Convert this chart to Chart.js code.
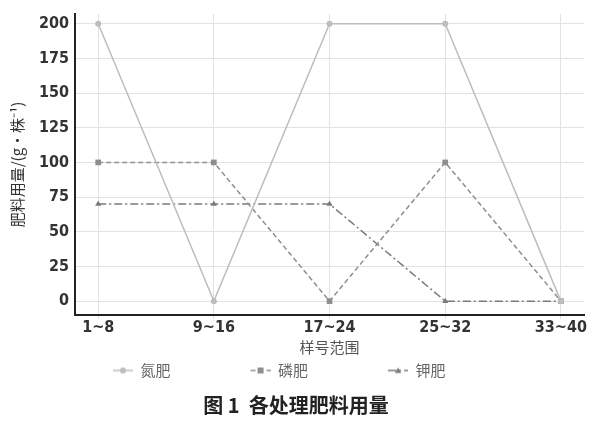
<!DOCTYPE html>
<html>
<head>
<meta charset="utf-8">
<script src="https://cdn.jsdelivr.net/npm/chart.js@4/dist/chart.umd.min.js"></script>
<style>
  html, body { margin: 0; padding: 0; background: #fff; }
  #box { width: 600px; height: 424px; }
</style>
</head>
<body>
<div id="box"><canvas id="fertChart"></canvas></div>
<script>
// 样号范围
var categories = ['1~8', '9~16', '17~24', '25~32', '33~40'];
// 各处理肥料用量 (g/株)
var nitrogen = [200, 0, 200, 200, 0];    // 氮肥
var phosphorus = [100, 100, 0, 100, 0];  // 磷肥
var potassium = [70, 70, 70, 0, 0];      // 钾肥
var yTicks = [0, 25, 50, 75, 100, 125, 150, 175, 200];

function toPoints(arr) {
    return arr.map(function (v, i) { return { x: i, y: v }; });
}

// legend sample: transparent space on the left, then line piece with marker
var ICON_W = 94, SAMPLE_W = 20;
function legendIcon(color, dash, shape) {
    var c = document.createElement('canvas');
    c.width = ICON_W; c.height = 12;
    var g = c.getContext('2d');
    var x0 = ICON_W - SAMPLE_W, mid = x0 + SAMPLE_W / 2;
    g.strokeStyle = color;
    g.lineWidth = 1.5;
    g.setLineDash(dash);
    g.beginPath(); g.moveTo(x0, 6); g.lineTo(ICON_W, 6); g.stroke();
    g.setLineDash([]);
    g.fillStyle = color;
    if (shape === 'circle') {
        g.beginPath(); g.arc(mid, 6, 3, 0, Math.PI * 2); g.fill();
    } else if (shape === 'rect') {
        g.fillRect(mid - 3, 3, 6, 6);
    } else {
        g.beginPath(); g.moveTo(mid, 3); g.lineTo(mid + 3.2, 8.5); g.lineTo(mid - 3.2, 8.5); g.closePath(); g.fill();
    }
    return c;
}

var styles = [
    { color: '#bdbdbd', dash: [], shape: 'circle', r: 3 },
    { color: '#8e8e8e', dash: [5, 3], shape: 'rect', r: 4 },
    { color: '#7a7a7a', dash: [8, 3, 2, 3], shape: 'triangle', r: 3.5 }
];

// the legend in the picture sits left of centre
var legendShift = {
    id: 'legendShift',
    afterLayout: function (chart) {
        var lg = chart.legend;
        if (lg) { lg.left += 25; lg.right += 25; }
    }
};

window.onload = function () {
    var ctx = document.getElementById('fertChart').getContext('2d');
    var names = ['氮肥', '磷肥', '钾肥'];
    var series = [nitrogen, phosphorus, potassium];
    var tickFont = { family: '"Liberation Sans Narrow", "DejaVu Sans Condensed", sans-serif', size: 16, weight: 'bold', lineHeight: 1 };

    new Chart(ctx, {
        type: 'line',
        data: {
            datasets: series.map(function (s, i) {
                return {
                    label: names[i],
                    data: toPoints(s),
                    borderColor: styles[i].color,
                    backgroundColor: styles[i].color,
                    borderWidth: 1.5,
                    borderDash: styles[i].dash,
                    pointStyle: styles[i].shape,
                    pointRadius: styles[i].r,
                    pointBorderWidth: 0,
                    tension: 0
                };
            })
        },
        options: {
            responsive: true,
            maintainAspectRatio: false,
            animation: false,
            layout: { padding: { left: 8, right: 16, top: 0, bottom: 7 } },
            scales: {
                x: {
                    type: 'linear',
                    min: -0.2,
                    max: 4.2,
                    afterBuildTicks: function (axis) {
                        axis.ticks = categories.map(function (c, i) { return { value: i }; });
                    },
                    ticks: {
                        callback: function (v) { return categories[v]; },
                        color: '#333',
                        font: tickFont,
                        padding: 1,
                        maxRotation: 0
                    },
                    grid: { color: '#e2e2e2', tickLength: 4 },
                    border: { color: '#222', width: 2 },
                    title: {
                        display: true,
                        text: '样号范围',
                        color: '#555',
                        font: { family: '"Noto Sans CJK SC"', size: 15 },
                        padding: { top: 1, bottom: 1 }
                    }
                },
                y: {
                    min: -10,
                    max: 207,
                    afterBuildTicks: function (axis) {
                        axis.ticks = yTicks.map(function (v) { return { value: v }; });
                    },
                    ticks: {
                        color: '#333',
                        font: tickFont,
                        padding: 6
                    },
                    grid: { color: '#e2e2e2', drawTicks: false },
                    border: { color: '#222', width: 2 },
                    title: {
                        display: true,
                        text: '肥料用量/(g•株⁻¹)',
                        color: '#333',
                        font: { family: '"Noto Sans CJK SC"', size: 15 },
                        padding: { top: 0, bottom: 7 }
                    }
                }
            },
            plugins: {
                legend: {
                    position: 'bottom',
                    align: 'start',
                    labels: {
                        usePointStyle: true,
                        pointStyleWidth: ICON_W,
                        padding: 6,
                        color: '#666',
                        font: { family: '"Noto Sans CJK SC"', size: 15 },
                        generateLabels: function (chart) {
                            return chart.data.datasets.map(function (ds, i) {
                                return {
                                    text: ds.label,
                                    pointStyle: legendIcon(styles[i].color, styles[i].dash, styles[i].shape),
                                    fillStyle: styles[i].color,
                                    strokeStyle: styles[i].color,
                                    lineWidth: 0,
                                    fontColor: '#666',
                                    datasetIndex: i
                                };
                            });
                        }
                    }
                },
                title: {
                    display: true,
                    position: 'bottom',
                    text: '图 1  各处理肥料用量',
                    color: '#222',
                    font: { family: '"Noto Sans CJK SC"', size: 20, weight: 'bold' },
                    padding: { top: 5, bottom: 0 }
                },
                tooltip: { enabled: false }
            }
        },
        plugins: [legendShift]
    });
};
</script>
</body>
</html>
